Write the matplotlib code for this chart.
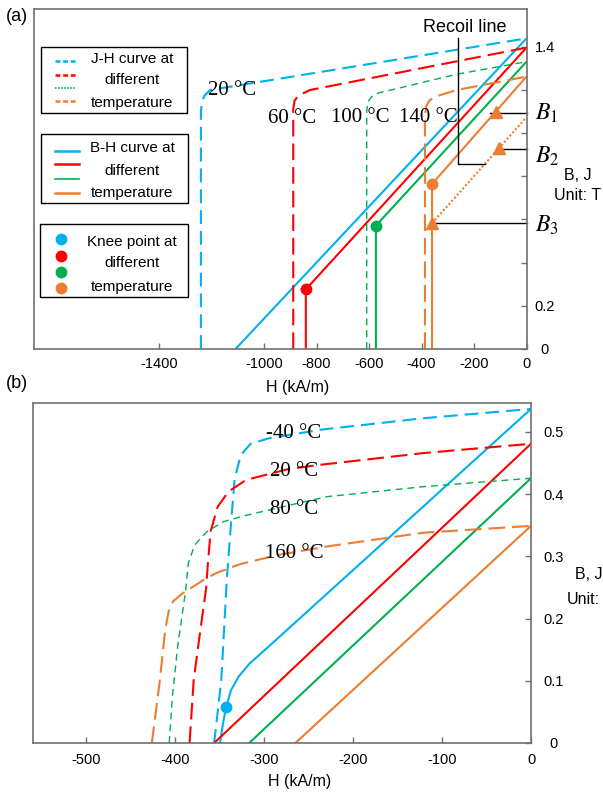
import numpy as np
import matplotlib
matplotlib.use("Agg")
import matplotlib.pyplot as plt
from matplotlib.patches import Rectangle
from matplotlib.lines import Line2D

plt.rcParams['font.family'] = ['Liberation Sans', 'DejaVu Sans']
plt.rcParams['axes.unicode_minus'] = False
plt.rcParams['mathtext.fontset'] = 'stix'
plt.rcParams['lines.scale_dashes'] = False

BLUE = '#00b0f0'
RED = '#ff0000'
GREEN = '#00b050'
ORANGE = '#ed7d31'
SPINE = '#707070'
SERIF = ['Liberation Serif', 'DejaVu Serif']

# ---------------- panel (a) data ----------------
temps_a = ['20 °C', '60 °C', '100 °C', '140 °C']
# J-H curves
ja_h = [[-1241, -1241, -1237, -1228, -1206, 0],
        [-889, -889, -884, -870, -825, 0],
        [-609, -609, -604, -590, -565, -266, 0],
        [-387, -387, -382, -370, -349, -266, 0]]
ja_j = [[0, 1.10, 1.14, 1.172, 1.199, 1.438],
        [0, 1.11, 1.15, 1.172, 1.199, 1.395],
        [0, 1.10, 1.145, 1.168, 1.185, 1.272, 1.330],
        [0, 1.08, 1.125, 1.15, 1.168, 1.199, 1.261]]
# B-H curves
ba_h = [[-1109, 0], [-841, -841, 0], [-574, -574, 0], [-360, -360, 0]]
ba_b = [[0, 1.438], [0, 0.276, 1.395], [0, 0.571, 1.330], [0, 0.764, 1.261]]
knee_a_h = [-841, -574, -360]
knee_a_b = [0.276, 0.571, 0.764]
knee_a_c = [RED, GREEN, ORANGE]
# recoil line and B1..B3 operating points
recoil_h = [-360, 0]
recoil_b = [0.582, 1.073]
bpt_h = [-117, -103, -360]
bpt_b = [1.095, 0.93, 0.584]
bline_h0 = [-139, -109, -360]
bline_b = [1.093, 0.926, 0.584]
bracket_h = [-260, -260, -158]
bracket_b = [1.4385, 0.8566, 0.8566]
xt_a = [-1400, -1000, -800, -600, -400, -200, 0]
yt_a = [0, 0.2, 0.4, 0.6, 0.8, 1.0, 1.2, 1.4]
ytl_a = ['0', '0.2', '', '', '', '', '', '1.4']

# ---------------- panel (b) data ----------------
temps_b = ['-40 °C', '20 °C', '80 °C', '160 °C']
jb_h = [[-356, -348, -341.6, -337, -333, -326, -315, -294, -234, -121, 0],
        [-383.6, -379, -372, -365, -363, -360, -352, -340, -320, -272, -238, -121, 0],
        [-406.5, -403, -397, -388, -385, -378, -364, -345, -320, -269, -229, -121, 0],
        [-426, -417, -411, -407, -402, -392, -368, -354, -328, -285, -229, -121, 0]]
jb_j = [[0, 0.101, 0.267, 0.354, 0.425, 0.463, 0.481, 0.490, 0.504, 0.522, 0.537],
        [0, 0.101, 0.176, 0.249, 0.289, 0.340, 0.380, 0.404, 0.423, 0.4405, 0.447, 0.466, 0.481],
        [0, 0.074, 0.155, 0.246, 0.289, 0.318, 0.340, 0.356, 0.366, 0.383, 0.396, 0.412, 0.4256],
        [0, 0.101, 0.182, 0.212, 0.228, 0.240, 0.262, 0.273, 0.287, 0.302, 0.316, 0.338, 0.349]]
bb_h = [[-349.4, -346, -342.5, -337, -328.6, -316, -294, 0],
        [-356, 0], [-316.6, 0], [-264.7, 0]]
bb_b = [[0, 0.032, 0.058, 0.085, 0.1066, 0.128, 0.156, 0.537],
        [0, 0.481], [0, 0.4256], [0, 0.349]]
knee_b_h = [-342.5]
knee_b_b = [0.058]
xt_b = [-500, -400, -300, -200, -100, 0]
yt_b = [0, 0.1, 0.2, 0.3, 0.4, 0.5]

colors = [BLUE, RED, GREEN, ORANGE]
j_dash = [(10, 5), (12, 5), (5, 3.5), (12, 5)]
j_lw = [1.5, 1.5, 1.0, 1.5]
b_lw = [1.5, 1.5, 1.5, 1.5]

fig = plt.figure(figsize=(6.03, 7.93), dpi=100)
ax_a = fig.add_axes([34 / 603, 1 - 349 / 793, 492.5 / 603, 340 / 793])
ax_b = fig.add_axes([33.3 / 603, 1 - 743 / 793, 497.7 / 603, 340.3 / 793])


def style_axes(ax, ypad):
    for s in ax.spines.values():
        s.set_color(SPINE)
        s.set_linewidth(1.2)
    ax.yaxis.tick_right()
    ax.tick_params(axis='y', direction='in', length=4.5, width=1, color=SPINE,
                   pad=ypad, labelsize=10.5)
    ax.tick_params(axis='x', direction='in', length=4, width=1, color=SPINE,
                   pad=6, labelsize=10.5)
    ax.set_xlabel('H (kA/m)', fontsize=11.5)
    ax.xaxis.set_label_coords(0.536, -0.09)


# ---------------- draw panel (a) ----------------
for i in range(4):
    ax_a.plot(ja_h[i], ja_j[i], color=colors[i], lw=j_lw[i],
              linestyle=(0, j_dash[i]), clip_on=False)
    ax_a.plot(ba_h[i], ba_b[i], color=colors[i], lw=b_lw[i], solid_capstyle='butt')
for h, b, c in zip(knee_a_h, knee_a_b, knee_a_c):
    ax_a.plot(h, b, 'o', color=c, ms=7.5, zorder=5)
ax_a.plot(recoil_h, recoil_b, color=ORANGE, lw=1.5, linestyle=(0, (1.5, 1.5)))
ax_a.plot(bpt_h, bpt_b, '^', color=ORANGE, ms=8, zorder=6)
for h0, b in zip(bline_h0, bline_b):
    ax_a.plot([h0, 0], [b, b], color='black', lw=1, clip_on=False)
ax_a.plot(bracket_h, bracket_b, color='black', lw=1, clip_on=False)
ax_a.text(-234, 1.489, 'Recoil line', fontsize=13, ha='center', va='center')

label_pos_a = [(-1122, 1.199), (-894, 1.068), (-633, 1.070), (-374, 1.070)]
for t, (h, b) in zip(temps_a, label_pos_a):
    ax_a.text(h, b, t, family=SERIF, fontsize=15, ha='center', va='center')

btrans = ax_a.get_yaxis_transform()
for lab, y in zip(['$B_1$', '$B_2$', '$B_3$'], [1.091, 0.89, 0.572]):
    ax_a.text(1.017, y, lab, transform=btrans, fontsize=17, ha='left', va='center')

ax_a.set_xlim(-1877, 0)
ax_a.set_ylim(0, 1.574)
ax_a.set_xticks(xt_a)
ax_a.set_yticks(yt_a)
ax_a.set_yticklabels(ytl_a, ha='center')
style_axes(ax_a, 13.3)
ax_a.text(1.1046, 0.509, 'B, J', transform=ax_a.transAxes, fontsize=11.5,
          ha='center', va='center')
ax_a.text(1.1046, 0.45, 'Unit: T', transform=ax_a.transAxes, fontsize=11.5,
          ha='center', va='center')


# hand-drawn legend boxes of panel (a)
def legend_box(ax, x0, x1, y0, y1, rows, texts, handle):
    ax.add_patch(Rectangle((x0, y0), x1 - x0, y1 - y0, transform=ax.transAxes,
                           fill=False, ec='black', lw=1, zorder=7))
    for (y, c, kw) in zip(rows, colors, handle):
        kw = dict(kw)
        if 'marker' in kw:
            ax.plot([0.0558], [y], transform=ax.transAxes, color=c, ls='none',
                    zorder=8, **kw)
        else:
            ax.add_line(Line2D([0.0426, kw.pop('x1')], [y, y], transform=ax.transAxes,
                               color=c, zorder=8, **kw))
    for (y, t) in texts:
        ax.text(0.199, y, t, transform=ax.transAxes, fontsize=11,
                ha='center', va='center', zorder=8)


legend_box(ax_a, 0.0136, 0.311, 0.693, 0.889, [0.847, 0.806, 0.767, 0.729],
           [(0.853, 'J-H curve at'), (0.791, 'different'), (0.723, 'temperature')],
           [dict(x1=0.0853, lw=1.8, ls=(0, (3.5, 2))),
            dict(x1=0.0853, lw=1.8, ls=(0, (3.5, 2))),
            dict(x1=0.0853, lw=1.2, ls=(0, (1.2, 1.0))),
            dict(x1=0.0853, lw=1.8, ls=(0, (3.5, 2)))])
legend_box(ax_a, 0.0136, 0.313, 0.4285, 0.631, [0.582, 0.543, 0.5, 0.46],
           [(0.590, 'B-H curve at'), (0.524, 'different'), (0.458, 'temperature')],
           [dict(x1=0.0914, lw=1.8), dict(x1=0.0914, lw=1.8),
            dict(x1=0.0914, lw=1.2), dict(x1=0.0914, lw=1.8)])
legend_box(ax_a, 0.013, 0.3137, 0.152, 0.3668, [0.3226, 0.274, 0.227, 0.1785],
           [(0.3156, 'Knee point at'), (0.252, 'different'), (0.1815, 'temperature')],
           [dict(marker='o', ms=7.5)] * 4)

# ---------------- draw panel (b) ----------------
for i in range(4):
    ax_b.plot(jb_h[i], jb_j[i], color=colors[i], lw=j_lw[i],
              linestyle=(0, j_dash[i]), clip_on=False)
    ax_b.plot(bb_h[i], bb_b[i], color=colors[i], lw=b_lw[i])
ax_b.plot(knee_b_h, knee_b_b, 'o', color=BLUE, ms=7.5, zorder=5)

label_pos_b = [(-267, 0.498), (-266, 0.436), (-266, 0.3746), (-266, 0.305)]
for t, (h, b) in zip(temps_b, label_pos_b):
    ax_b.text(h, b, t, family=SERIF, fontsize=15, ha='center', va='center')

ax_b.set_xlim(-559.2, 0)
ax_b.set_ylim(0, 0.547)
ax_b.set_xticks(xt_b)
ax_b.set_yticks(yt_b)
ax_b.set_yticklabels(['0', '0.1', '0.2', '0.3', '0.4', '0.5'], ha='center')
style_axes(ax_b, 16.2)
ax_b.tick_params(axis='x', pad=7)
ax_b.text(1.1166, 0.4937, 'B, J', transform=ax_b.transAxes, fontsize=11.5,
          ha='center', va='center')
ax_b.text(1.1045, 0.423, 'Unit:', transform=ax_b.transAxes, fontsize=11.5,
          ha='center', va='center')

fig.text(17 / 603, 1 - 16.7 / 793, '(a)', fontsize=13, ha='center', va='center')
fig.text(17 / 603, 1 - 383 / 793, '(b)', fontsize=13, ha='center', va='center')

fig.savefig('out.png', dpi=100)
